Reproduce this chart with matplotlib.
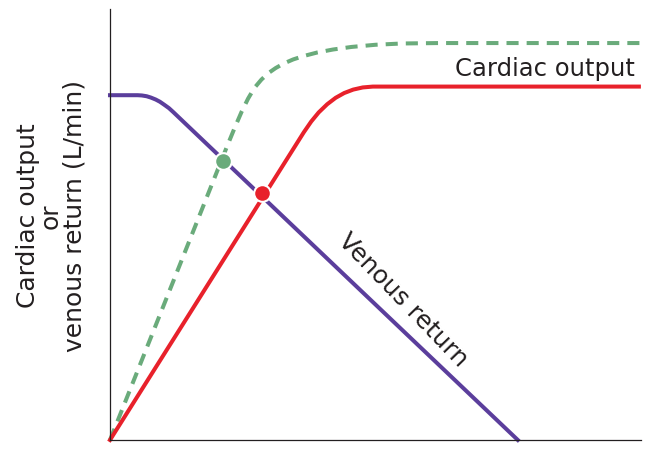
import matplotlib.pyplot as plt

# Curves (arbitrary units, axes run 0-10)
venous_x = [0.0, 0.52, 0.60, 0.69, 0.77, 0.86, 0.94, 1.02, 1.11, 1.19, 7.68]
venous_y = [8.00, 8.00, 7.994, 7.976, 7.945, 7.90, 7.848, 7.78, 7.70, 7.61, 0.0]

co_x = [0.0, 3.65, 3.79, 3.93, 4.09, 4.25, 4.41, 4.58, 4.76, 4.95, 9.96]
co_y = [0.0, 7.14, 7.39, 7.60, 7.79, 7.94, 8.05, 8.13, 8.18, 8.20, 8.20]

co_high_x = [0.0, 2.20, 2.35, 2.48, 2.60, 2.72, 2.85, 2.98, 3.12, 3.28, 3.45,
             3.65, 3.90, 4.20, 4.55, 5.00, 5.50, 6.20, 9.98]
co_high_y = [0.0, 6.80, 7.25, 7.62, 7.92, 8.17, 8.36, 8.51, 8.63, 8.74, 8.83,
             8.91, 8.99, 9.06, 9.12, 9.17, 9.20, 9.21, 9.21]

# Equilibrium points
eq_green = (2.12, 6.47)
eq_red = (2.87, 5.72)

purple = "#5b3e9c"
red = "#e8212b"
green = "#6aab7b"
txt = "#231f20"

fig = plt.figure(figsize=(6.55, 4.52), dpi=100)
ax = fig.add_axes([110 / 655, 11 / 452, 531 / 655, 431 / 452])

ax.plot(co_high_x, co_high_y, color=green, lw=2.9, dashes=(3.0, 2.0),
        solid_joinstyle="round", clip_on=False)
ax.plot(co_x, co_y, color=red, lw=2.9, solid_joinstyle="round", clip_on=False)
ax.plot(venous_x, venous_y, color=purple, lw=2.9, solid_joinstyle="round",
        clip_on=False)

ax.plot(*eq_green, "o", ms=12, mfc=green, mec="white", mew=1.5, zorder=5)
ax.plot(*eq_red, "o", ms=12, mfc=red, mec="white", mew=1.5, zorder=5)

ax.text(9.89, 8.48, "Cardiac output", ha="right", va="baseline",
        fontsize=17.5, color=txt)
ax.text(5.52, 3.27, "Venous return", ha="center", va="center",
        rotation=-46, fontsize=18, color=txt)

fig.text(51 / 655, 1 - 216 / 452, "Cardiac output\nor\nvenous return (L/min)",
         rotation=90, ha="center", va="center", fontsize=18,
         linespacing=0.95, color=txt)

ax.set_xlim(0, 10)
ax.set_ylim(0, 10)
ax.set_xticks([])
ax.set_yticks([])
ax.spines["top"].set_visible(False)
ax.spines["right"].set_visible(False)
for s in ("left", "bottom"):
    ax.spines[s].set_linewidth(0.9)
    ax.spines[s].set_color(txt)

fig.savefig("out.png", dpi=100)
